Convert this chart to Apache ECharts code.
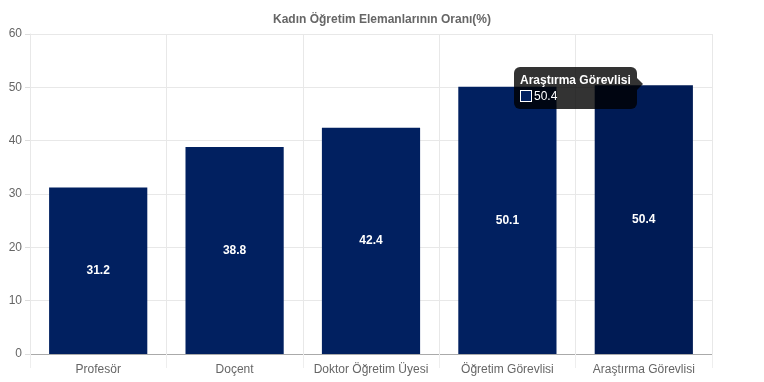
<!DOCTYPE html>
<html><head><meta charset="utf-8">
<script src="https://cdn.jsdelivr.net/npm/echarts@6/dist/echarts.min.js"></script>
<style>html,body{margin:0;padding:0;background:#fff}#c{width:764px;height:382px}</style>
</head><body><div id="c"></div>
<script>
const categories = ['Profesör', 'Doçent', 'Doktor Öğretim Üyesi', 'Öğretim Görevlisi', 'Araştırma Görevlisi'];
const values = [31.2, 38.8, 42.4, 50.1, 50.4];
const yTicks = { min: 0, max: 60, interval: 10 };
const titleText = 'Kadın Öğretim Elemanlarının Oranı(%)';
const highlighted = 4;

const font = 'Liberation Sans, Arial, Helvetica, sans-serif';
const chart = echarts.init(document.getElementById('c'));
chart.setOption({
  animation: false,
  textStyle: { fontFamily: font },
  title: { text: titleText, left: 'center', top: 9,
    textStyle: { fontSize: 12, fontWeight: 'bold', color: '#666', fontFamily: font } },
  grid: { left: 30, right: 52, top: 34, bottom: 28 },
  tooltip: {
    trigger: 'item', triggerOn: 'none', alwaysShowContent: true,
    backgroundColor: 'rgba(0,0,0,0.8)', borderWidth: 0, padding: [5, 6],
    extraCssText: 'border-radius:6px;box-shadow:none;overflow:visible;',
    position: function () { return [514, 67]; },
    formatter: function (p) {
      return '<div style="position:relative;font-family:' + font + ';color:#fff;font-size:12px;line-height:16px">' +
        '<div style="font-weight:bold">' + p.name + '</div>' +
        '<div><span style="display:inline-block;width:10px;height:10px;border:1px solid #fff;background:#012060;vertical-align:-2px;margin-right:2px"></span>' + p.value + '</div>' +
        '<div style="position:absolute;right:-12px;top:6px;width:0;height:0;border-top:6px solid transparent;border-bottom:6px solid transparent;border-left:6px solid rgba(0,0,0,0.8)"></div>' +
        '</div>';
    }
  },
  xAxis: {
    type: 'category', data: categories,
    axisLine: { lineStyle: { color: '#aaa' } },
    axisTick: { show: true, interval: 0, length: 14, lineStyle: { color: '#eee' } },
    axisLabel: { color: '#666', fontSize: 12, margin: 10, interval: 0 },
    splitLine: { show: true, interval: 0, lineStyle: { color: '#e8e8e8' } }
  },
  yAxis: {
    type: 'value', min: yTicks.min, max: yTicks.max, interval: yTicks.interval,
    axisLine: { show: true, lineStyle: { color: '#e8e8e8' } },
    axisTick: { show: true, length: 5, lineStyle: { color: '#ddd' } },
    axisLabel: { color: '#666', fontSize: 12, margin: 8 },
    splitLine: { lineStyle: { color: '#e8e8e8' } }
  },
  series: [{
    type: 'bar', barWidth: '72%',
    data: values.map((v, i) => i === highlighted ? { value: v, itemStyle: { color: '#001b55' } } : v),
    itemStyle: { color: '#012060' },
    label: { show: true, position: 'inside', color: '#fff', fontWeight: 'bold', fontSize: 12, fontFamily: font }
  }]
});
chart.dispatchAction({ type: 'showTip', seriesIndex: 0, dataIndex: highlighted });
</script></body></html>
